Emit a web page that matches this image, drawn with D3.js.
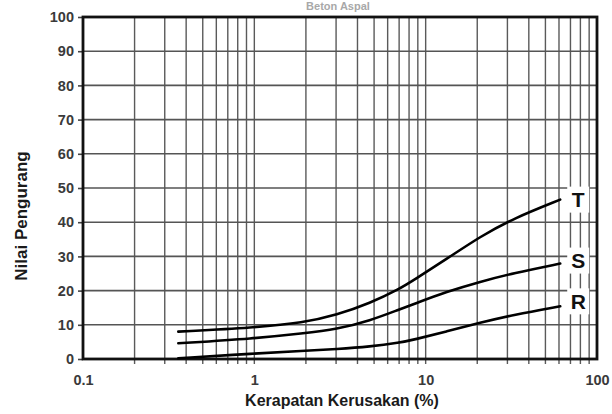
<!DOCTYPE html>
<html>
<head>
<meta charset="utf-8">
<script src="https://cdn.jsdelivr.net/npm/d3@7/dist/d3.min.js"></script>
<style>
  html, body { margin: 0; padding: 0; background: #fff; }
  svg { display: block; font-family: "Liberation Sans", Arial, sans-serif; }
</style>
</head>
<body>
<svg id="chart" width="612" height="414"></svg>
<script>
// Deduct value curves for asphalt pavement damage density
const densityPct = [0.36, 1, 1.93, 3.03, 4.73, 7.1, 8.47, 13.3, 20.8, 32.5, 61];
const curveT = [8.0, 9.2, 10.6, 12.9, 16.3, 20.6, 23.0, 29.3, 35.8, 41.1, 46.6];
const curveS = [4.6, 6.0, 7.5, 8.7, 11.2, 14.6, 16.0, 19.7, 22.6, 25.1, 27.9];
const curveR = [0.2, 1.6, 2.4, 2.9, 3.6, 4.8, 5.6, 8.1, 10.6, 12.9, 15.4];
const seriesNames = ["T", "S", "R"];
const xTickValues = [0.1, 1, 10, 100];
const xTickLabels = ["0.1", "1", "10", "100"];
const yTickValues = [0, 10, 20, 30, 40, 50, 60, 70, 80, 90, 100];

const series = [
  { name: seriesNames[0], values: curveT },
  { name: seriesNames[1], values: curveS },
  { name: seriesNames[2], values: curveR }
];

const svg = d3.select("#chart");
const plotL = 83, plotR = 597, plotT = 17, plotB = 359;

const x = d3.scaleLog().domain([0.1, 100]).range([plotL, plotR]);
const y = d3.scaleLinear().domain([0, 100]).range([plotB, plotT]);

// faint heading at the top edge
svg.append("text")
  .attr("x", 338).attr("y", 10)
  .attr("text-anchor", "middle")
  .attr("font-size", 11).attr("font-weight", "bold")
  .attr("fill", "#a8a8a8")
  .text("Beton Aspal");

// log grid: every integer step within each decade
const minorX = [];
[0.1, 1, 10].forEach(d => { for (let k = 1; k <= 9; k++) minorX.push(d * k); });

const grid = svg.append("g");
grid.selectAll("line.vx")
  .data(minorX.filter(v => v > 0.1 && v < 100))
  .join("line")
  .attr("x1", d => x(d)).attr("x2", d => x(d))
  .attr("y1", plotT).attr("y2", plotB + 5)
  .attr("stroke", "#5a5a5a").attr("stroke-width", 1.4);

grid.selectAll("line.hy")
  .data(yTickValues.filter(v => v > 0 && v < 100))
  .join("line")
  .attr("x1", plotL).attr("x2", plotR)
  .attr("y1", d => y(d)).attr("y2", d => y(d))
  .attr("stroke", "#555").attr("stroke-width", 1.6);

// y axis ticks and labels
const yAxis = d3.axisLeft(y).tickValues(yTickValues).tickSize(5).tickPadding(4);
const gy = svg.append("g").attr("transform", `translate(${plotL},0)`).call(yAxis);
gy.select(".domain").remove();
gy.selectAll(".tick line").attr("stroke", "#444").attr("stroke-width", 1.6);
gy.selectAll(".tick text")
  .attr("font-size", 14.5).attr("font-weight", "bold")
  .attr("fill", "#3a3a3a")
  .attr("font-family", "Liberation Sans, Arial, sans-serif");

// x axis labels
const xAxis = d3.axisBottom(x).tickValues(xTickValues)
  .tickFormat((d, i) => xTickLabels[i]).tickSize(0).tickPadding(16);
const gx = svg.append("g").attr("transform", `translate(0,${plotB})`).call(xAxis);
gx.select(".domain").remove();
gx.selectAll(".tick text")
  .attr("font-size", 14.5).attr("font-weight", "bold")
  .attr("fill", "#3a3a3a")
  .attr("font-family", "Liberation Sans, Arial, sans-serif");

// frame
svg.append("rect")
  .attr("x", plotL).attr("y", plotT)
  .attr("width", plotR - plotL).attr("height", plotB - plotT)
  .attr("fill", "none").attr("stroke", "#111").attr("stroke-width", 2.8);

// curves
const line = d3.line()
  .x((d, i) => x(densityPct[i]))
  .y(d => y(d))
  .curve(d3.curveBasis);

svg.append("g").selectAll("path")
  .data(series)
  .join("path")
  .attr("d", d => line(d.values))
  .attr("fill", "none")
  .attr("stroke", "#000")
  .attr("stroke-width", 2.6)
  .attr("stroke-linecap", "round");

// curve labels on white patches
const lastX = densityPct[densityPct.length - 1];
const labelOffsetY = [0, -3, -5];
const lab = svg.append("g").selectAll("g")
  .data(series)
  .join("g")
  .attr("transform", (d, i) =>
    `translate(${x(lastX) + 18},${y(d.values[d.values.length - 1]) + labelOffsetY[i]})`);
lab.append("rect")
  .attr("x", -11).attr("y", -13).attr("width", 22).attr("height", 26)
  .attr("fill", "#fff");
lab.append("text")
  .attr("text-anchor", "middle")
  .attr("dy", "0.36em")
  .attr("font-size", 21).attr("font-weight", "bold")
  .attr("fill", "#111")
  .text(d => d.name);

// axis titles
svg.append("text")
  .attr("transform", "translate(27,216) rotate(-90)")
  .attr("text-anchor", "middle")
  .attr("font-size", 17).attr("font-weight", "bold")
  .attr("fill", "#1a1a1a")
  .text("Nilai Pengurang");

svg.append("text")
  .attr("x", 342).attr("y", 406)
  .attr("text-anchor", "middle")
  .attr("font-size", 16).attr("font-weight", "bold")
  .attr("fill", "#1a1a1a")
  .text("Kerapatan Kerusakan (%)");
</script>
</body>
</html>
